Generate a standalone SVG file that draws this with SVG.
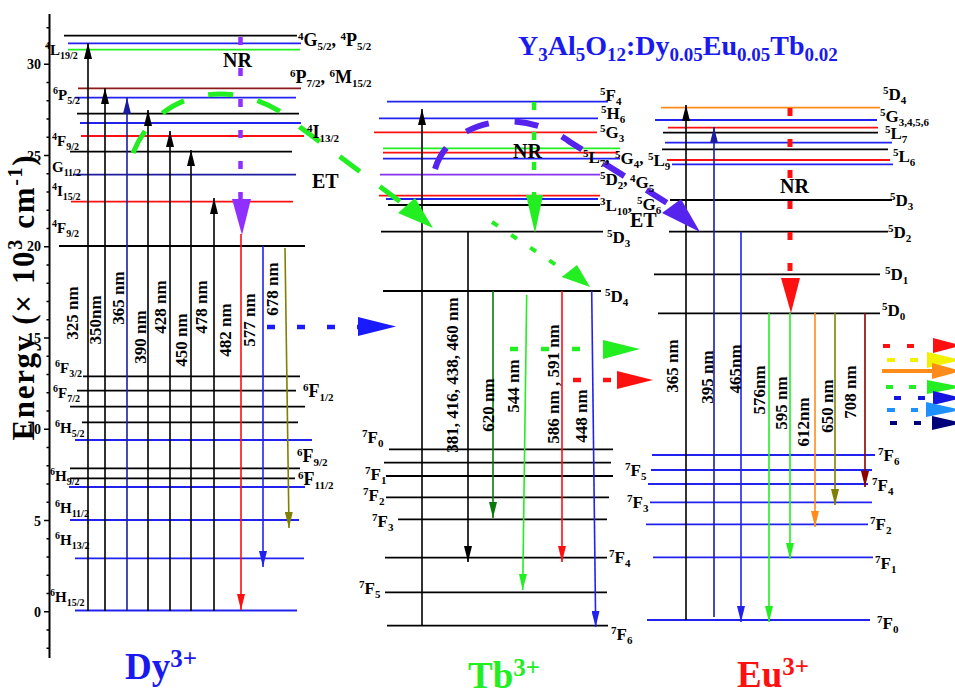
<svg xmlns="http://www.w3.org/2000/svg" width="955" height="695" viewBox="0 0 955 695">
<style>
text{font-family:"Liberation Serif","Times New Roman",serif;font-weight:bold;fill:#000}
.lb{font-size:17px}
.lr{font-size:18px}
.ls{font-size:15px}
.s{font-size:11px;baseline-shift:6px}
.b{font-size:11px;baseline-shift:-4px}
.s2{font-size:10px;baseline-shift:6px}
.b2{font-size:10px;baseline-shift:-4px}
.wl{font-size:17px}
.big{font-size:20px}
.lv line{stroke-width:1.8}
.ar line{stroke-width:1.6}
.k{stroke:#000}.bl{stroke:#2222ee}.rd{stroke:#ff1010}.gr{stroke:#22ee22}.nv{stroke:#1c1ca0}.br{stroke:#8b1a1a}.pu{stroke:#8833ee}.or{stroke:#ff8c1a}.ol{stroke:#808000}.dg{stroke:#0a7a0a}.dr{stroke:#8b0000}
.tick{font-size:14px}
</style>
<defs>
<marker id="mk" viewBox="0 0 16 8" refX="16" refY="4" markerWidth="16" markerHeight="8" orient="auto" markerUnits="userSpaceOnUse"><path d="M0,0L16,4L0,8z" fill="#000"/></marker>
<marker id="mnv" viewBox="0 0 16 8" refX="16" refY="4" markerWidth="16" markerHeight="8" orient="auto" markerUnits="userSpaceOnUse"><path d="M0,0L16,4L0,8z" fill="#1c1ca0"/></marker>
<marker id="mbl" viewBox="0 0 16 8" refX="16" refY="4" markerWidth="16" markerHeight="8" orient="auto" markerUnits="userSpaceOnUse"><path d="M0,0L16,4L0,8z" fill="#2222ee"/></marker>
<marker id="mrd" viewBox="0 0 16 8" refX="16" refY="4" markerWidth="16" markerHeight="8" orient="auto" markerUnits="userSpaceOnUse"><path d="M0,0L16,4L0,8z" fill="#ff1010"/></marker>
<marker id="mol" viewBox="0 0 16 8" refX="16" refY="4" markerWidth="16" markerHeight="8" orient="auto" markerUnits="userSpaceOnUse"><path d="M0,0L16,4L0,8z" fill="#808000"/></marker>
<marker id="mdg" viewBox="0 0 16 8" refX="16" refY="4" markerWidth="16" markerHeight="8" orient="auto" markerUnits="userSpaceOnUse"><path d="M0,0L16,4L0,8z" fill="#0a7a0a"/></marker>
<marker id="mgr" viewBox="0 0 16 8" refX="16" refY="4" markerWidth="16" markerHeight="8" orient="auto" markerUnits="userSpaceOnUse"><path d="M0,0L16,4L0,8z" fill="#22ee22"/></marker>
<marker id="mor" viewBox="0 0 16 8" refX="16" refY="4" markerWidth="16" markerHeight="8" orient="auto" markerUnits="userSpaceOnUse"><path d="M0,0L16,4L0,8z" fill="#ff8c1a"/></marker>
<marker id="mdr" viewBox="0 0 16 8" refX="16" refY="4" markerWidth="16" markerHeight="8" orient="auto" markerUnits="userSpaceOnUse"><path d="M0,0L16,4L0,8z" fill="#8b0000"/></marker>
</defs>
<rect width="955" height="695" fill="#fff"/>

<g id="axis">
<line x1="49.5" y1="14" x2="49.5" y2="658" stroke="#000" stroke-width="2"/>
<path stroke="#000" stroke-width="1.5" d="M46.5,648.2h3M46.5,630h3M44,611.7h5.5M46.5,593.5h3M46.5,575.2h3M46.5,557h3M46.5,538.7h3M44,520.5h5.5M46.5,502.2h3M46.5,484h3M46.5,465.7h3M46.5,447.5h3M44,429.2h5.5M46.5,411h3M46.5,392.7h3M46.5,374.5h3M46.5,356.2h3M44,338h5.5M46.5,319.7h3M46.5,301.5h3M46.5,283.3h3M46.5,265h3M44,246.8h5.5M46.5,228.5h3M46.5,210.3h3M46.5,192h3M46.5,173.8h3M44,155.5h5.5M46.5,137.3h3M46.5,119h3M46.5,100.8h3M46.5,82.5h3M44,64.3h5.5M46.5,46h3M46.5,27.8h3"/>
<g class="tick" text-anchor="end">
<text x="41" y="69">30</text><text x="41" y="161">25</text><text x="41" y="251">20</text><text x="41" y="343">15</text><text x="41" y="434">10</text><text x="41" y="526">5</text><text x="41" y="617">0</text>
</g>
<text transform="translate(34,298) rotate(-90)" text-anchor="middle" font-size="31" textLength="285" lengthAdjust="spacing">Energy (× 10<tspan font-size="20" baseline-shift="12">3</tspan> cm<tspan font-size="20" baseline-shift="12">-1</tspan>)</text>
</g>

<g id="title"><text x="518" y="55" font-size="28" style="fill:#1a1aee">Y<tspan font-size="19" baseline-shift="-6">3</tspan>Al<tspan font-size="19" baseline-shift="-6">5</tspan>O<tspan font-size="19" baseline-shift="-6">12</tspan>:Dy<tspan font-size="19" baseline-shift="-6">0.05</tspan>Eu<tspan font-size="19" baseline-shift="-6">0.05</tspan>Tb<tspan font-size="19" baseline-shift="-6">0.02</tspan></text></g>

<g id="dy-levels" class="lv">
<line class="k" x1="64" y1="35.7" x2="297" y2="35.7"/>
<line class="bl" x1="68" y1="43.3" x2="301" y2="43.3"/>
<line class="gr" x1="68" y1="49.7" x2="300" y2="49.7"/>
<line class="br" x1="78" y1="88.3" x2="301" y2="88.3"/>
<line class="bl" x1="75" y1="97.7" x2="296" y2="97.7"/>
<line class="k" x1="77" y1="113.7" x2="299" y2="113.7"/>
<line class="bl" x1="80" y1="123" x2="301" y2="123"/>
<line class="rd" x1="81" y1="136" x2="304" y2="136"/>
<line class="k" x1="70" y1="151.7" x2="292" y2="151.7"/>
<line class="nv" x1="73" y1="174.7" x2="296" y2="174.7"/>
<line class="rd" x1="71" y1="201.7" x2="293" y2="201.7"/>
<line class="k" x1="59" y1="246" x2="305" y2="246"/>
<line class="k" x1="83" y1="376.3" x2="300" y2="376.3"/>
<line class="k" x1="77" y1="390.7" x2="296" y2="390.7"/>
<line class="k" x1="70" y1="406.7" x2="305" y2="406.7"/>
<line class="k" x1="82" y1="422.3" x2="298" y2="422.3"/>
<line class="bl" x1="75" y1="440" x2="312" y2="440"/>
<line class="k" x1="70" y1="468.3" x2="300" y2="468.3"/>
<line class="k" x1="70" y1="478.3" x2="295" y2="478.3"/>
<line class="bl" x1="69" y1="487" x2="305" y2="487"/>
<line class="bl" x1="70" y1="520" x2="299" y2="520"/>
<line class="bl" x1="75" y1="558.3" x2="304" y2="558.3"/>
<line class="bl" x1="75" y1="610.5" x2="297" y2="610.5"/>
</g>

<g id="tb-levels" class="lv">
<line class="bl" x1="387" y1="101.7" x2="608" y2="101.7"/>
<line class="bl" x1="379" y1="118.3" x2="598" y2="118.3"/>
<line class="rd" x1="374" y1="132.3" x2="597" y2="132.3"/>
<line class="gr" x1="383" y1="148.3" x2="620" y2="148.3"/>
<line class="rd" x1="383" y1="152.7" x2="618" y2="152.7"/>
<line class="bl" x1="383" y1="158.7" x2="620" y2="158.7"/>
<line class="pu" x1="380" y1="174.7" x2="600" y2="174.7"/>
<line class="rd" x1="379" y1="195.7" x2="600" y2="195.7"/>
<line class="bl" x1="386" y1="199" x2="598" y2="199"/>
<line class="k" x1="388" y1="205" x2="600" y2="205"/>
<line class="k" x1="381" y1="231.7" x2="603" y2="231.7"/>
<line class="k" x1="383" y1="291" x2="601" y2="291"/>
<line class="k" x1="389" y1="449.3" x2="613" y2="449.3"/>
<line class="k" x1="384" y1="462.7" x2="611" y2="462.7"/>
<line class="k" x1="386" y1="476" x2="613" y2="476"/>
<line class="k" x1="386" y1="497.3" x2="609" y2="497.3"/>
<line class="k" x1="398" y1="519.3" x2="607" y2="519.3"/>
<line class="k" x1="385" y1="557.7" x2="607" y2="557.7"/>
<line class="k" x1="385" y1="592.3" x2="607" y2="592.3"/>
<line class="k" x1="387" y1="625.7" x2="608" y2="625.7"/>
</g>

<g id="eu-levels" class="lv">
<line class="or" x1="661" y1="107.7" x2="880" y2="107.7"/>
<line class="bl" x1="655" y1="120" x2="877" y2="120"/>
<line class="rd" x1="668" y1="127.7" x2="878" y2="127.7"/>
<line class="k" x1="663" y1="132.7" x2="878" y2="132.7"/>
<line class="bl" x1="665" y1="142.7" x2="892" y2="142.7"/>
<line class="k" x1="662" y1="149.3" x2="888" y2="149.3"/>
<line class="rd" x1="667" y1="160" x2="890" y2="160"/>
<line class="bl" x1="672" y1="164.3" x2="893" y2="164.3"/>
<line class="k" x1="670" y1="200" x2="892" y2="200"/>
<line class="k" x1="669" y1="231.7" x2="888" y2="231.7"/>
<line class="k" x1="654" y1="274.3" x2="880" y2="274.3"/>
<line class="k" x1="658" y1="313.3" x2="880" y2="313.3"/>
<line class="bl" x1="652" y1="455" x2="875" y2="455"/>
<line class="bl" x1="651" y1="470" x2="872" y2="470"/>
<line class="bl" x1="648" y1="484" x2="868" y2="484"/>
<line class="bl" x1="650" y1="502.3" x2="872" y2="502.3"/>
<line class="bl" x1="646" y1="524.3" x2="868" y2="524.3"/>
<line class="bl" x1="653" y1="557.3" x2="873" y2="557.3"/>
<line class="bl" x1="647" y1="620" x2="870" y2="620"/>
</g>

<g id="connectors">
<g class="ar">
<line class="k" x1="88" y1="611" x2="88" y2="43" marker-end="url(#mk)"/>
<line class="k" x1="105" y1="611" x2="105" y2="88" marker-end="url(#mk)"/>
<line class="nv" x1="127" y1="611" x2="127" y2="97.7" marker-end="url(#mnv)"/>
<line class="k" x1="148" y1="611" x2="148" y2="110" marker-end="url(#mk)"/>
<line class="k" x1="170" y1="611" x2="170" y2="131" marker-end="url(#mk)"/>
<line class="k" x1="191" y1="611" x2="191" y2="150" marker-end="url(#mk)"/>
<line class="k" x1="214" y1="611" x2="214" y2="198" marker-end="url(#mk)"/>
<line class="rd" x1="241" y1="234" x2="241" y2="610" marker-end="url(#mrd)"/>
<line class="bl" x1="263" y1="246" x2="263" y2="567" marker-end="url(#mbl)"/>
<line class="ol" x1="285" y1="248" x2="289" y2="528" marker-end="url(#mol)"/>

<line class="k" x1="422" y1="625.7" x2="422" y2="109" marker-end="url(#mk)"/>
<line class="k" x1="468" y1="231.7" x2="468" y2="562" marker-end="url(#mk)"/>
<line class="dg" x1="493" y1="291" x2="493" y2="518" marker-end="url(#mdg)"/>
<line class="gr" x1="526.7" y1="295" x2="522.7" y2="590" marker-end="url(#mgr)"/>
<line class="rd" x1="562" y1="291" x2="562" y2="562" marker-end="url(#mrd)"/>
<line class="bl" x1="591.7" y1="291" x2="595.7" y2="627" marker-end="url(#mbl)"/>

<line class="k" x1="686" y1="620" x2="686" y2="105" marker-end="url(#mk)"/>
<line class="nv" x1="714" y1="617" x2="714" y2="127" marker-end="url(#mnv)"/>
<line class="bl" x1="741" y1="231.7" x2="741" y2="622" marker-end="url(#mbl)"/>
<line class="gr" x1="769" y1="313" x2="769" y2="622" marker-end="url(#mgr)"/>
<line class="gr" x1="790" y1="313" x2="790" y2="559" marker-end="url(#mgr)"/>
<line class="or" x1="815" y1="313" x2="815" y2="527" marker-end="url(#mor)"/>
<line class="ol" x1="835" y1="313" x2="835" y2="505" marker-end="url(#mol)"/>
<line class="dr" x1="865" y1="313" x2="865" y2="487" marker-end="url(#mdr)"/>
</g>

<line x1="240.5" y1="37" x2="240.5" y2="199" stroke="#9030ff" stroke-width="4.5" stroke-dasharray="8,23"/>
<polygon points="232,199 251,199 242,235" fill="#9030ff"/>
<line x1="534" y1="102" x2="534" y2="195" stroke="#22ee22" stroke-width="4.5" stroke-dasharray="8,22"/>
<polygon points="526,195 543,195 535,233" fill="#22ee22"/>
<line x1="790" y1="108" x2="790" y2="278" stroke="#ff1010" stroke-width="5" stroke-dasharray="8,23"/>
<polygon points="781,278 800,278 791,313" fill="#ff1010"/>

<path d="M133,153 C160,85 245,75 300,127 L406,206" fill="none" stroke="#22ee22" stroke-width="5" stroke-dasharray="25,25"/>
<polygon points="398,213 415,198 433,228" fill="#22ee22"/>
<path d="M435,169 C450,120 520,105 570,142 L672,206" fill="none" stroke="#5522ee" stroke-width="6" stroke-dasharray="24,26"/>
<polygon points="662,213 681,199 700,232" fill="#5522ee"/>
<line x1="492" y1="222" x2="568" y2="273" stroke="#22ee22" stroke-width="4" stroke-dasharray="7,16"/>
<polygon points="561.7,277 577,265 590,287" fill="#22ee22"/>

<line x1="267" y1="327" x2="358" y2="327" stroke="#1a1aff" stroke-width="4.5" stroke-dasharray="8,22"/>
<polygon points="358,317 358,336 396,326.5" fill="#1a1aff"/>
<line x1="510" y1="349" x2="603" y2="349" stroke="#22ee22" stroke-width="4.5" stroke-dasharray="8,23"/>
<polygon points="603,340 603,359 640,349" fill="#22ee22"/>
<line x1="573" y1="380" x2="617" y2="380" stroke="#ff1010" stroke-width="4.5" stroke-dasharray="8,22"/>
<polygon points="617,371 617,389 653,380" fill="#ff1010"/>

<g stroke-width="4">
<line x1="883" y1="346" x2="915" y2="346" stroke="#ff1010" stroke-dasharray="7,17"/>
<polygon points="933,338 933,353 962,345.5" fill="#ff1010" stroke="none"/>
<line x1="887" y1="360" x2="918" y2="360" stroke="#f2f200" stroke-dasharray="8,15"/>
<polygon points="927,352 927,368 962,360" fill="#f2f200" stroke="none"/>
<line x1="882" y1="371" x2="935" y2="371" stroke="#ff8c1a"/>
<polygon points="932,363 932,379 962,371" fill="#ff8c1a" stroke="none"/>
<line x1="886" y1="387" x2="917" y2="387" stroke="#22ee22" stroke-dasharray="7,16"/>
<polygon points="927,380 927,394 962,387" fill="#22ee22" stroke="none"/>
<line x1="894" y1="398" x2="925" y2="398" stroke="#1515e0" stroke-dasharray="7,17"/>
<polygon points="933,391 933,405 962,398" fill="#1515e0" stroke="none"/>
<line x1="887" y1="410" x2="918" y2="410" stroke="#1e90ff" stroke-dasharray="8,16"/>
<polygon points="926,402 926,417 962,410" fill="#1e90ff" stroke="none"/>
<line x1="890" y1="423" x2="921" y2="423" stroke="#00007a" stroke-dasharray="7,17"/>
<polygon points="932,416 932,430 962,423" fill="#00007a" stroke="none"/>
</g>
</g>

<g id="dy-labels">
<text class="ls" x="45" y="55"><tspan class="s2">4</tspan>L<tspan class="b2">19/2</tspan></text>
<text class="ls" x="53" y="100"><tspan class="s2">6</tspan>P<tspan class="b2">5/2</tspan></text>
<text class="ls" x="52" y="146"><tspan class="s2">4</tspan>F<tspan class="b2">9/2</tspan></text>
<text class="ls" x="52" y="172">G<tspan class="b2">11/2</tspan></text>
<text class="ls" x="52" y="196"><tspan class="s2">4</tspan>I<tspan class="b2">15/2</tspan></text>
<text class="ls" x="52" y="233"><tspan class="s2">4</tspan>F<tspan class="b2">9/2</tspan></text>
<text class="ls" x="55" y="373"><tspan class="s2">6</tspan>F<tspan class="b2">3/2</tspan></text>
<text class="ls" x="53" y="398"><tspan class="s2">6</tspan>F<tspan class="b2">7/2</tspan></text>
<text class="ls" x="55" y="433"><tspan class="s2">6</tspan>H<tspan class="b2">5/2</tspan></text>
<text class="ls" x="50" y="481"><tspan class="s2">6</tspan>H<tspan class="b2">9/2</tspan></text>
<text class="ls" x="55" y="513"><tspan class="s2">6</tspan>H<tspan class="b2">11/2</tspan></text>
<text class="ls" x="55" y="545"><tspan class="s2">6</tspan>H<tspan class="b2">13/2</tspan></text>
<text class="ls" x="50" y="602"><tspan class="s2">6</tspan>H<tspan class="b2">15/2</tspan></text>
<text class="lr" x="298" y="46"><tspan class="s">4</tspan>G<tspan class="b">5/2</tspan>, <tspan class="s">4</tspan>P<tspan class="b">5/2</tspan></text>
<text class="lr" x="290" y="83"><tspan class="s">6</tspan>P<tspan class="b">7/2</tspan>, <tspan class="s">6</tspan>M<tspan class="b">15/2</tspan></text>
<text class="lr" x="307" y="138"><tspan class="s">4</tspan>I<tspan class="b">13/2</tspan></text>
<text class="lr" x="303" y="397"><tspan class="s">6</tspan>F<tspan class="b">1/2</tspan></text>
<text class="lr" x="297" y="462"><tspan class="s">6</tspan>F<tspan class="b">9/2</tspan></text>
<text class="lr" x="298" y="485"><tspan class="s">6</tspan>F<tspan class="b">11/2</tspan></text>
<text class="big" x="223" y="67">NR</text>
<text class="big" x="312" y="188">ET</text>
<text x="125" y="679" font-size="37" style="fill:#1a1aee">Dy<tspan font-size="25" baseline-shift="12">3+</tspan></text>
</g>

<g id="tb-labels" class="lb">
<text x="600" y="101"><tspan class="s">5</tspan>F<tspan class="b">4</tspan></text>
<text x="601" y="119" font-weight="normal"><tspan class="s">5</tspan>H<tspan class="b">6</tspan></text>
<text x="600" y="138"><tspan class="s">5</tspan>G<tspan class="b">3</tspan></text>
<text x="583" y="163"><tspan class="s">5</tspan>L<tspan class="b">7</tspan>,</text>
<text x="615" y="164"><tspan class="s">5</tspan>G<tspan class="b">4</tspan>,</text>
<text x="600" y="185"><tspan class="s">5</tspan>D<tspan class="b">2</tspan>,</text>
<text x="630" y="188"><tspan class="s">4</tspan>G<tspan class="b">5</tspan></text>
<text x="600" y="211"><tspan class="s">3</tspan>L<tspan class="b">10</tspan>,</text>
<text x="637" y="210"><tspan class="s">5</tspan>G<tspan class="b">6</tspan></text>
<text class="big" x="630" y="227">ET</text>
<text x="607" y="243"><tspan class="s">5</tspan>D<tspan class="b">3</tspan></text>
<text x="605" y="302"><tspan class="s">5</tspan>D<tspan class="b">4</tspan></text>
<text x="362" y="443"><tspan class="s">7</tspan>F<tspan class="b">0</tspan></text>
<text x="365" y="480"><tspan class="s">7</tspan>F<tspan class="b">1</tspan></text>
<text x="363" y="501"><tspan class="s">7</tspan>F<tspan class="b">2</tspan></text>
<text x="372" y="527"><tspan class="s">7</tspan>F<tspan class="b">3</tspan></text>
<text x="609" y="563"><tspan class="s">7</tspan>F<tspan class="b">4</tspan></text>
<text x="359" y="594"><tspan class="s">7</tspan>F<tspan class="b">5</tspan></text>
<text x="611" y="640"><tspan class="s">7</tspan>F<tspan class="b">6</tspan></text>
<text class="big" x="513" y="158">NR</text>
<text x="468" y="688" font-size="37" style="fill:#22ee22">Tb<tspan font-size="25" baseline-shift="12">3+</tspan></text>
</g>

<g id="eu-labels" class="lb">
<text x="883" y="100"><tspan class="s">5</tspan>D<tspan class="b">4</tspan></text>
<text x="880" y="122"><tspan class="s">5</tspan>G<tspan class="b">3,4,5,6</tspan></text>
<text x="885" y="139"><tspan class="s">5</tspan>L<tspan class="b">7</tspan></text>
<text x="893" y="162"><tspan class="s">5</tspan>L<tspan class="b">6</tspan></text>
<text x="648" y="166"><tspan class="s">5</tspan>L<tspan class="b">9</tspan></text>
<text x="890" y="206"><tspan class="s">5</tspan>D<tspan class="b">3</tspan></text>
<text x="888" y="238"><tspan class="s">5</tspan>D<tspan class="b">2</tspan></text>
<text x="885" y="280"><tspan class="s">5</tspan>D<tspan class="b">1</tspan></text>
<text x="882" y="316"><tspan class="s">5</tspan>D<tspan class="b">0</tspan></text>
<text x="878" y="461"><tspan class="s">7</tspan>F<tspan class="b">6</tspan></text>
<text x="625" y="476"><tspan class="s">7</tspan>F<tspan class="b">5</tspan></text>
<text x="872" y="491"><tspan class="s">7</tspan>F<tspan class="b">4</tspan></text>
<text x="627" y="508"><tspan class="s">7</tspan>F<tspan class="b">3</tspan></text>
<text x="870" y="530"><tspan class="s">7</tspan>F<tspan class="b">2</tspan></text>
<text x="875" y="569"><tspan class="s">7</tspan>F<tspan class="b">1</tspan></text>
<text x="877" y="629"><tspan class="s">7</tspan>F<tspan class="b">0</tspan></text>
<text class="big" x="780" y="193">NR</text>
<text x="737" y="687" font-size="37" style="fill:#ff1010">Eu<tspan font-size="25" baseline-shift="12">3+</tspan></text>
</g>

<g id="wavelengths" class="wl" text-anchor="middle">
<text transform="translate(72,313) rotate(-90)" dy="6">325 nm</text>
<text transform="translate(95,320) rotate(-90)" dy="6">350nm</text>
<text transform="translate(118,298) rotate(-90)" dy="6">365 nm</text>
<text transform="translate(140,337) rotate(-90)" dy="6">390 nm</text>
<text transform="translate(160,307) rotate(-90)" dy="6">428 nm</text>
<text transform="translate(181,340) rotate(-90)" dy="6">450 nm</text>
<text transform="translate(201,307) rotate(-90)" dy="6">478 nm</text>
<text transform="translate(225,330) rotate(-90)" dy="6">482 nm</text>
<text transform="translate(249,320) rotate(-90)" dy="6">577 nm</text>
<text transform="translate(272,289) rotate(-90)" dy="6">678 nm</text>
<text transform="translate(452,375) rotate(-90)" dy="6">381, 416, 438, 460 nm</text>
<text transform="translate(488,405) rotate(-90)" dy="6">620 nm</text>
<text transform="translate(513,386) rotate(-90)" dy="6">544 nm</text>
<text transform="translate(553,384) rotate(-90)" dy="6">586 nm , 591 nm</text>
<text transform="translate(581,416) rotate(-90)" dy="6">448 nm</text>
<text transform="translate(672,366) rotate(-90)" dy="6">365 nm</text>
<text transform="translate(707,377) rotate(-90)" dy="6">395 nm</text>
<text transform="translate(735,369) rotate(-90)" dy="6">465nm</text>
<text transform="translate(759,390) rotate(-90)" dy="6">576nm</text>
<text transform="translate(781,403) rotate(-90)" dy="6">595 nm</text>
<text transform="translate(803,422) rotate(-90)" dy="6">612nm</text>
<text transform="translate(827,406) rotate(-90)" dy="6">650 nm</text>
<text transform="translate(850,392) rotate(-90)" dy="6">708 nm</text>
</g>
</svg>
